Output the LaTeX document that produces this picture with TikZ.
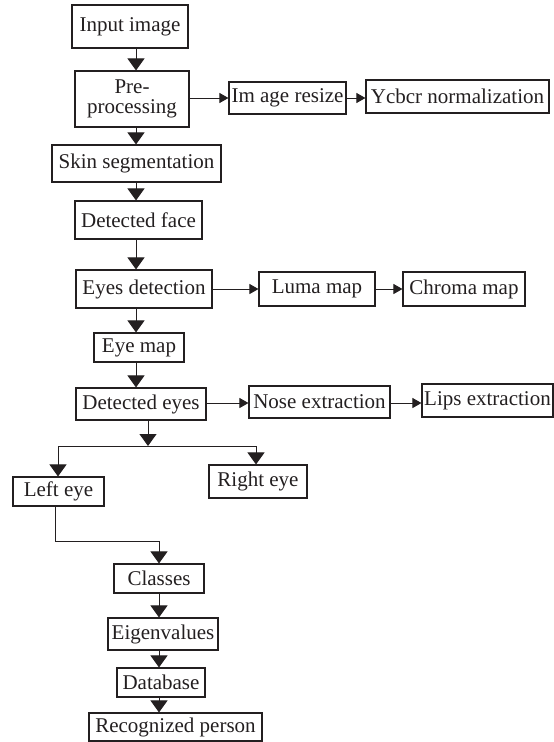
\documentclass[tikz,border=0pt]{standalone}
\usepackage{fontspec}
\setmainfont{Liberation Serif}
\usetikzlibrary{arrows.meta}
\definecolor{ink}{HTML}{231F20}
\begin{document}
\begin{tikzpicture}[x=1pt,y=-1pt,
  box/.style={draw=ink, line width=1.1pt, text=ink, inner sep=0pt, align=center, font=\fontsize{21}{20}\selectfont},
  vline/.style={draw=ink, line width=1pt, -{Triangle[width=17pt,length=12pt]}},
  hline/.style={draw=ink, line width=1pt, -{Triangle[width=10pt,length=9pt]}},
  plain/.style={draw=ink, line width=1pt}]
\useasboundingbox (0,0) rectangle (554,742);
% nodes
\node[box, minimum width=116pt, minimum height=43pt] (input) at (130,26.5) {Input image};
\node[box, minimum width=114pt, minimum height=56pt] (pre) at (132,99) {Pre-\\processing};
\node[box, minimum width=117pt, minimum height=32pt] (resize) at (287.5,98) {Im age resize};
\node[box, minimum width=183pt, minimum height=33pt] (ycbcr) at (457.5,96.5) {Ycbcr normalization};
\node[box, minimum width=169pt, minimum height=37pt] (skin) at (136.5,163.5) {Skin segmentation};
\node[box, minimum width=127pt, minimum height=38pt] (face) at (138.5,220) {Detected face};
\node[box, minimum width=136pt, minimum height=38pt] (eyesdet) at (144,289) {Eyes detection};
\node[box, minimum width=116pt, minimum height=34pt] (luma) at (317,289) {Luma map};
\node[box, minimum width=122pt, minimum height=34pt] (chroma) at (464,289) {Chroma map};
\node[box, minimum width=90pt, minimum height=29pt] (eyemap) at (139,347.5) {Eye map};
\node[box, minimum width=130pt, minimum height=32pt] (deteyes) at (141,404) {Detected eyes};
\node[box, minimum width=141pt, minimum height=32pt] (nose) at (319.5,402) {Nose extraction};
\node[box, minimum width=131pt, minimum height=33pt] (lips) at (487.5,400.5) {Lips extraction};
\node[box, minimum width=91pt, minimum height=29pt] (lefteye) at (58.5,491.5) {Left eye};
\node[box, minimum width=98pt, minimum height=33pt] (righteye) at (258,481.5) {Right eye};
\node[box, minimum width=90pt, minimum height=29pt] (classes) at (159,578.5) {Classes};
\node[box, minimum width=110pt, minimum height=32pt] (eigen) at (163,634) {Eigenvalues};
\node[box, minimum width=88pt, minimum height=29pt] (database) at (161,682.5) {Database};
\node[box, minimum width=173pt, minimum height=28pt] (recog) at (175.5,727) {Recognized person};
% helper coordinates
\coordinate (mx) at (136,0);
\coordinate (bx) at (148,0);
\coordinate (r1) at (0,98);
\coordinate (r2) at (0,289);
\coordinate (r3) at (0,403);
\coordinate (brL) at (58,446);
\coordinate (brR) at (256,446);
\coordinate (le) at (55,541);
\coordinate (ce) at (159,541);
% main column
\draw[vline] (input.south -| mx) -- (pre.north -| mx);
\draw[vline] (pre.south -| mx) -- (skin.north -| mx);
\draw[vline] (skin.south -| mx) -- (face.north -| mx);
\draw[vline] (face.south -| mx) -- (eyesdet.north -| mx);
\draw[vline] (eyesdet.south -| mx) -- (eyemap.north -| mx);
\draw[vline] (eyemap.south -| mx) -- (deteyes.north -| mx);
% side rows
\draw[hline] (pre.east |- r1) -- (resize.west |- r1);
\draw[hline] (resize.east |- r1) -- (ycbcr.west |- r1);
\draw[hline] (eyesdet.east |- r2) -- (luma.west |- r2);
\draw[hline] (luma.east |- r2) -- (chroma.west |- r2);
\draw[hline] (deteyes.east |- r3) -- (nose.west |- r3);
\draw[hline] (nose.east |- r3) -- (lips.west |- r3);
% branch
\draw[vline] (deteyes.south -| bx) -- (bx |- brL);
\draw[plain] (brL) -- (brR);
\draw[vline] (brL) -- (lefteye.north -| brL);
\draw[vline] (brR) -- (righteye.north -| brR);
% lower column
\draw[vline] (lefteye.south -| le) -- (le) -- (ce) -- (classes.north -| ce);
\draw[vline] (classes.south -| ce) -- (eigen.north -| ce);
\draw[vline] (eigen.south -| ce) -- (database.north -| ce);
\draw[vline] (database.south -| ce) -- (recog.north -| ce);
\end{tikzpicture}
\end{document}
